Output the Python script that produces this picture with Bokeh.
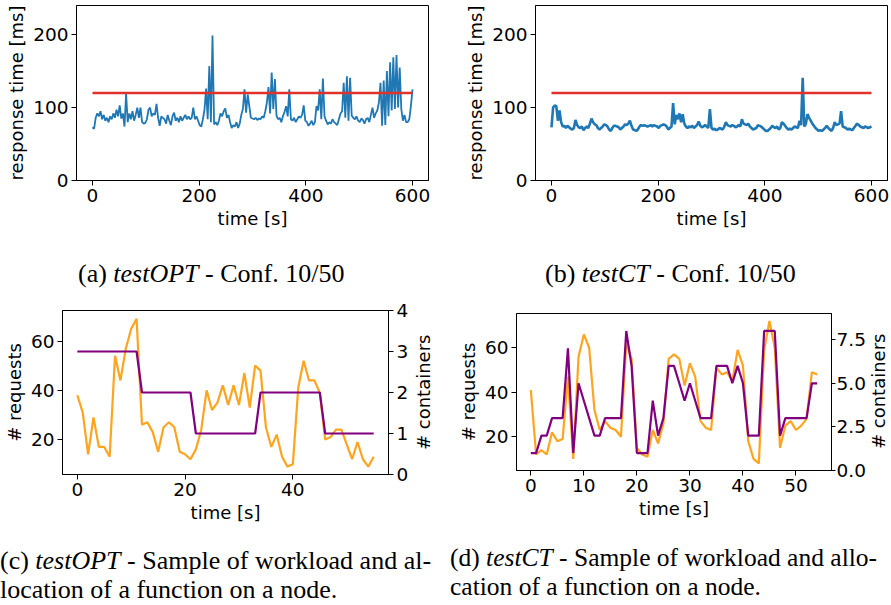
from bokeh.plotting import figure
from bokeh.layouts import column, row
from bokeh.models import Range1d, LinearAxis, FixedTicker, Div, PrintfTickFormatter
from bokeh.embed import file_html
from bokeh.resources import INLINE

# ---------------- data ----------------
# (a) / (b): response time [ms] sampled every 3 s
t_resp = list(range(0, 601, 3))
resp_opt = [
    73, 71, 86, 92, 88, 95, 84, 90, 82, 86,
    80, 88, 84, 92, 86, 97, 88, 103, 85, 92,
    74, 119, 80, 92, 84, 95, 82, 90, 100, 86,
    100, 80, 78, 79, 84, 97, 100, 88, 92, 90,
    105, 86, 75, 88, 86, 84, 78, 90, 82, 76,
    88, 93, 82, 86, 80, 88, 82, 86, 90, 84,
    88, 84, 86, 100, 84, 88, 82, 76, 74, 84,
    97, 126, 84, 157, 80, 199, 77, 80, 76, 82,
    92, 88, 95, 99, 86, 90, 80, 72, 76, 74,
    80, 72, 78, 90, 98, 125, 93, 118, 102, 86,
    85, 84, 86, 83, 85, 84, 88, 86, 95, 107,
    128, 92, 148, 98, 139, 89, 84, 86, 80, 88,
    94, 102, 88, 125, 84, 82, 86, 80, 84, 88,
    86, 90, 103, 82, 80, 75, 78, 82, 76, 80,
    102, 96, 125, 84, 140, 88, 82, 77, 80, 78,
    84, 80, 78, 76, 84, 92, 95, 134, 86, 143,
    82, 141, 89, 86, 84, 88, 82, 80, 85, 83,
    78, 84, 86, 80, 90, 100, 86, 92, 96, 107,
    134, 75, 137, 76, 150, 88, 162, 96, 169, 98,
    172, 100, 155, 98, 82, 90, 80, 80, 84, 102,
    125,
]
resp_ct = [
    73, 100, 103, 102, 82, 96, 80, 74, 75, 72,
    75, 73, 71, 70, 72, 83, 76, 73, 72, 74,
    69, 72, 74, 72, 78, 85, 80, 77, 76, 72,
    70, 72, 74, 77, 76, 74, 70, 68, 72, 75,
    75, 74, 73, 70, 72, 74, 77, 76, 78, 82,
    75, 70, 69, 68, 70, 74, 76, 75, 76, 75,
    74, 75, 76, 74, 76, 75, 74, 72, 75, 76,
    77, 76, 74, 70, 72, 74, 106, 77, 90, 84,
    92, 80, 91, 78, 74, 72, 74, 73, 75, 72,
    74, 76, 81, 75, 73, 74, 76, 74, 72, 98,
    72, 70, 71, 69, 70, 72, 71, 70, 74, 80,
    76, 75, 74, 76, 75, 73, 74, 76, 74, 84,
    78, 77, 76, 78, 74, 72, 70, 71, 72, 76,
    75, 74, 72, 70, 68, 68, 70, 72, 75, 73,
    72, 74, 70, 72, 80, 78, 75, 72, 70, 71,
    70, 72, 74, 73, 72, 82, 76, 141, 74, 78,
    91, 86, 82, 78, 75, 72, 70, 68, 69, 68,
    70, 72, 75, 72, 70, 68, 72, 80, 76, 77,
    78, 95, 74, 73, 72, 70, 71, 70, 69, 72,
    75, 78, 76, 74, 73, 72, 74, 73, 72, 73,
    74,
]
sla_ms = 120
sla_t = [0, 600]

# (c) testOPT workload sample
t_c = list(range(56))
req_c = [38, 31, 14, 29, 17, 17, 13, 54, 44, 57,
         65, 69, 26, 27, 23, 15, 25, 27, 25, 15,
         14, 12, 16, 24, 40, 32, 35, 42, 34, 42,
         34, 47, 33, 50, 48, 25, 17, 22, 13, 9,
         10, 41, 52, 44, 44, 39, 20, 21, 24, 24,
         18, 12, 19, 12, 9, 13]
cont_c = [3] * 12 + [2] * 10 + [1] * 12 + [2] * 12 + [1] * 10

# (d) testCT workload sample
t_d = list(range(55))
req_d = [41, 12, 14, 12, 22, 18, 19, 47, 10, 56,
         66, 60, 32, 23, 27, 24, 23, 20, 62, 55,
         15, 12, 11, 23, 17, 26, 55, 57, 55, 43,
         53, 47, 27, 24, 23, 51, 48, 49, 45, 59,
         52, 18, 10, 8, 59, 72, 60, 15, 25, 27,
         23, 25, 28, 49, 48]
cont_d = [1, 1, 2, 2, 3, 3, 3, 7, 1, 5,
          4, 3, 2, 2, 3, 3, 3, 3, 8, 6,
          1, 1, 1, 4, 2, 3, 6, 6, 5, 4,
          5, 4, 3, 3, 3, 6, 6, 6, 5, 6,
          5, 2, 2, 2, 8, 8, 8, 2, 3, 3,
          3, 3, 3, 5, 5]

ticks_resp_x = [0, 200, 400, 600]
ticks_resp_y = [0, 100, 200]
ticks_c_x = [0, 20, 40]
ticks_req = [20, 40, 60]
ticks_cont_c = [0, 1, 2, 3, 4]
ticks_d_x = [0, 10, 20, 30, 40, 50]
ticks_cont_d = [0, 2.5, 5, 7.5]

BLUE = "#1f77b4"
RED = "#e0312a"
ORANGE = "#ffa41f"
PURPLE = "#800080"
FONT = "DejaVu Sans"
FS = "18.5px"


def style_axis(ax, label=None, label_fs="18px", standoff=3, tick_out=5):
    ax.major_label_text_font = FONT
    ax.major_label_text_font_size = FS
    ax.major_label_text_color = "black"
    ax.axis_label_text_font = FONT
    ax.axis_label_text_font_size = label_fs
    ax.axis_label_text_font_style = "normal"
    ax.axis_label_text_color = "black"
    ax.minor_tick_line_color = None
    ax.major_tick_in = 0
    ax.major_tick_out = tick_out
    ax.major_tick_line_color = "black"
    ax.major_tick_line_width = 1
    ax.axis_line_color = "black"
    ax.major_label_standoff = standoff
    ax.axis_label_standoff = 3
    if label is not None:
        ax.axis_label = label


def base_fig(width, height, xr, yr, ml, mr, mt, mb):
    p = figure(width=width, height=height, x_range=Range1d(*xr), y_range=Range1d(*yr),
               output_backend="svg", toolbar_location=None,
               min_border_left=ml, min_border_right=mr,
               min_border_top=mt, min_border_bottom=mb)
    p.xgrid.visible = False
    p.ygrid.visible = False
    p.outline_line_color = "black"
    p.outline_line_width = 1
    p.outline_line_alpha = 1
    p.background_fill_color = "white"
    p.border_fill_color = "white"
    return p


def resp_fig(values, width, ml, mr, lw):
    p = base_fig(width, 235, (-30, 630), (0, 240), ml, mr, 5, 55)
    p.line(t_resp, values, line_color=BLUE, line_width=lw)
    p.line(sla_t, [sla_ms, sla_ms], line_color=RED, line_width=2.5)
    p.xaxis.ticker = FixedTicker(ticks=ticks_resp_x)
    p.yaxis.ticker = FixedTicker(ticks=ticks_resp_y)
    style_axis(p.xaxis[0], "time [s]")
    style_axis(p.yaxis[0], "response time [ms]", label_fs="18px")
    return p


pa = resp_fig(resp_opt, 445, 76, 17, 1.8)
pb = resp_fig(resp_ct, 445, 90, 3, 2.6)

# (c)
pc = base_fig(411, 234, (-2.75, 57.75), (5.8, 72.4), 60, 22, 15, 55)
pc.extra_y_ranges = {"cont": Range1d(0, 4)}
pc.line(t_c, req_c, line_color=ORANGE, line_width=2.2)
pc.line(t_c, cont_c, line_color=PURPLE, line_width=2.2, y_range_name="cont")
pc.xaxis.ticker = FixedTicker(ticks=ticks_c_x)
pc.yaxis.ticker = FixedTicker(ticks=ticks_req)
style_axis(pc.xaxis[0], "time [s]")
style_axis(pc.yaxis[0], "# requests")
ax_c = LinearAxis(y_range_name="cont", ticker=FixedTicker(ticks=ticks_cont_c))
style_axis(ax_c)
pc.add_layout(ax_c, "right")

# (d)
pd_ = base_fig(423, 234, (-2.7, 56.7), (4.8, 75.4), 71, 35, 18, 59)
pd_.extra_y_ranges = {"cont": Range1d(0, 9)}
pd_.line(t_d, req_d, line_color=ORANGE, line_width=2.2)
pd_.line(t_d, cont_d, line_color=PURPLE, line_width=2.2, y_range_name="cont")
pd_.xaxis.ticker = FixedTicker(ticks=ticks_d_x)
pd_.yaxis.ticker = FixedTicker(ticks=ticks_req)
style_axis(pd_.xaxis[0], "time [s]")
style_axis(pd_.yaxis[0], "# requests")
ax_d = LinearAxis(y_range_name="cont", ticker=FixedTicker(ticks=ticks_cont_d),
                  formatter=PrintfTickFormatter(format="%.1f"))
style_axis(ax_d, standoff=1, tick_out=4)
pd_.add_layout(ax_d, "right")

# right-hand axis titles, read bottom-to-top as in the original
LAB = ("writing-mode:vertical-rl;transform:rotate(180deg);font-family:'DejaVu Sans';"
       "font-size:18px;line-height:{w}px;width:{w}px;height:{h}px;margin-top:{mt}px;"
       "margin-left:{ml}px;text-align:center;color:black;white-space:nowrap")


def side_label(text, width, height, w, h, mt, ml):
    return Div(text='<div style="%s">%s</div>' % (LAB.format(w=w, h=h, mt=mt, ml=ml), text),
               width=width, height=height, margin=0)


lc = side_label("# containers", 34, 234, 22, 164, 15, 2)
ld = side_label("# containers", 22, 234, 21, 157, 18, 0)

CAP = ("font-family:'Liberation Serif',serif;font-size:{fs}px;line-height:29px;"
       "padding-left:{pl}px;padding-top:{pt}px;white-space:nowrap;color:black;margin:0")


def caption(html, width, height, pl, pt, fs=26):
    return Div(text='<div style="%s">%s</div>' % (CAP.format(fs=fs, pl=pl, pt=pt), html),
               width=width, height=height, margin=0)


da = caption("(a) <i>testOPT</i> - Conf. 10/50", 445, 60, 78, 24)
db = caption("(b) <i>testCT</i> - Conf. 10/50", 445, 60, 100, 24)
dc = caption("(c) <i>testOPT</i> - Sample of workload and al-<br>location of a function on a node.",
             445, 75, 0, 17, 26)
dd = caption("(d) <i>testCT</i> - Sample of workload and allo-<br>cation of a function on a node.",
             445, 75, 5, 14, 25.5)

layout = column(
    row(column(pa, da, spacing=0), column(pb, db, spacing=0), spacing=0),
    row(column(row(pc, lc, spacing=0), dc, spacing=0),
        column(row(pd_, ld, spacing=0), dd, spacing=0), spacing=0),
    spacing=0,
)

open("out.html", "w").write(file_html(layout, INLINE, "Figure"))
